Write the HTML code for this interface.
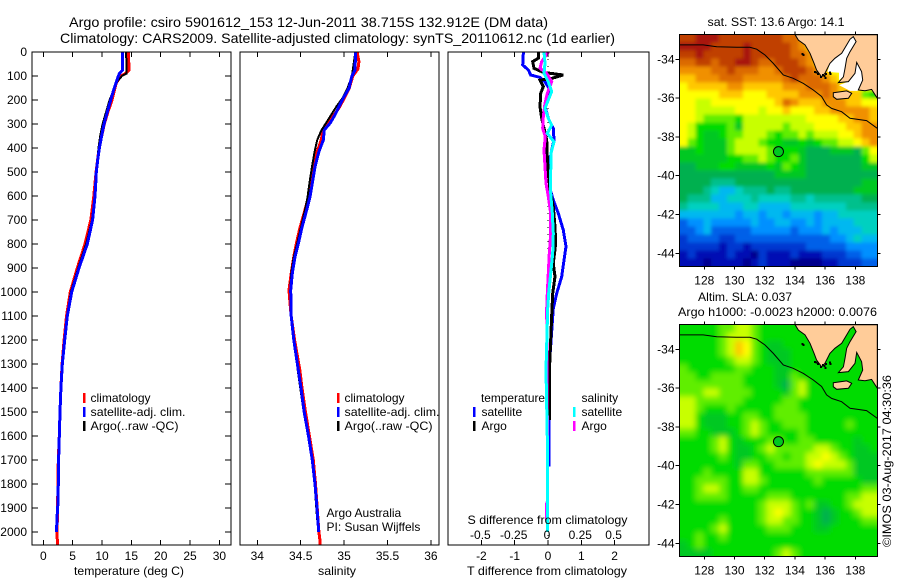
<!DOCTYPE html>
<html lang="en">
<head>
<meta charset="utf-8">
<title>Argo profile</title>
<style>
html,body{margin:0;padding:0;background:#fff;}
svg{display:block;}
text{font-family:"Liberation Sans",sans-serif;font-size:12px;fill:#000;}
.t{font-size:14px;}
</style>
</head>
<body>
<svg id="chart" xmlns="http://www.w3.org/2000/svg" width="900" height="580" viewBox="0 0 900 580">
<defs>
<filter id="sstBlur" filterUnits="userSpaceOnUse" x="640" y="0" width="260" height="300"><feGaussianBlur stdDeviation="1.8"/></filter>
<filter id="slaBlur" filterUnits="userSpaceOnUse" x="640" y="290" width="260" height="290"><feGaussianBlur stdDeviation="3"/></filter>
<clipPath id="sstClip"><rect x="679.5" y="34.7" width="198" height="232"/></clipPath>
<clipPath id="slaClip"><rect x="679.5" y="324.7" width="198" height="232"/></clipPath>
</defs>
<rect x="0" y="0" width="900" height="580" fill="#ffffff"/>
<g id="maps"></g>
<g id="plots"></g>
<g id="labels"></g>
<text class="t" x="69" y="27" textLength="479" lengthAdjust="spacingAndGlyphs">Argo profile: csiro 5901612_153 12-Jun-2011 38.715S 132.912E (DM data)</text>
<text class="t" x="60" y="43" textLength="555" lengthAdjust="spacingAndGlyphs">Climatology: CARS2009. Satellite-adjusted climatology: synTS_20110612.nc (1d earlier)</text>
<text x="129" y="575" text-anchor="middle" textLength="110" lengthAdjust="spacingAndGlyphs">temperature (deg C)</text>
<text x="337" y="575" text-anchor="middle" textLength="38" lengthAdjust="spacingAndGlyphs">salinity</text>
<text x="547" y="575" text-anchor="middle" textLength="160" lengthAdjust="spacingAndGlyphs">T difference from climatology</text>
<text x="547.5" y="524" text-anchor="middle" textLength="160" lengthAdjust="spacingAndGlyphs">S difference from climatology</text>
<g>
<rect x="83" y="393" width="2.5" height="10" fill="#ff0000"/>
<rect x="83" y="407" width="2.5" height="10" fill="#0000ff"/>
<rect x="83" y="421" width="2.5" height="10" fill="#000000"/>
<text x="90.5" y="402">climatology</text>
<text x="90.5" y="416" textLength="95" lengthAdjust="spacingAndGlyphs">satellite-adj. clim.</text>
<text x="90.5" y="430" textLength="88" lengthAdjust="spacingAndGlyphs">Argo(..raw -QC)</text>
</g>
<g>
<rect x="337" y="393" width="2.5" height="10" fill="#ff0000"/>
<rect x="337" y="407" width="2.5" height="10" fill="#0000ff"/>
<rect x="337" y="421" width="2.5" height="10" fill="#000000"/>
<text x="344.5" y="402">climatology</text>
<text x="344.5" y="416" textLength="95" lengthAdjust="spacingAndGlyphs">satellite-adj. clim.</text>
<text x="344.5" y="430" textLength="88" lengthAdjust="spacingAndGlyphs">Argo(..raw -QC)</text>
</g>
<g>
<text x="481" y="402" textLength="64" lengthAdjust="spacingAndGlyphs">temperature</text>
<text x="581.5" y="402">salinity</text>
<rect x="473" y="407" width="2.5" height="10" fill="#0000ff"/>
<rect x="473" y="421" width="2.5" height="10" fill="#000000"/>
<rect x="573" y="407" width="2.5" height="10" fill="#00ffff"/>
<rect x="573" y="421" width="2.5" height="10" fill="#ff00ff"/>
<text x="481.5" y="416">satellite</text>
<text x="481.5" y="430">Argo</text>
<text x="581.5" y="416">satellite</text>
<text x="581.5" y="430">Argo</text>
</g>
<text x="326.5" y="517">Argo Australia</text>
<text x="326.5" y="531">PI: Susan Wijffels</text>
<text x="776" y="26" text-anchor="middle" textLength="137" lengthAdjust="spacingAndGlyphs">sat. SST: 13.6 Argo: 14.1</text>
<text x="745" y="301" text-anchor="middle" textLength="94" lengthAdjust="spacingAndGlyphs">Altim. SLA: 0.037</text>
<text x="777.5" y="316" text-anchor="middle" textLength="199" lengthAdjust="spacingAndGlyphs">Argo h1000: -0.0023 h2000: 0.0076</text>
<text transform="translate(891 461) rotate(-90)" text-anchor="middle" textLength="172" lengthAdjust="spacingAndGlyphs">©IMOS 03-Aug-2017 04:30:36</text>
</svg>
<script>
// ---------- axis tick data ----------
const depthTicks = [0,100,200,300,400,500,600,700,800,900,1000,1100,1200,1300,1400,1500,1600,1700,1800,1900,2000];
const tempTicks = [0,5,10,15,20,25,30];
const salTicks = [34,34.5,35,35.5,36];
const salTickLabels = ['34','34.5','35','35.5','36'];
const tDiffTicks = [-2,-1,0,1,2];
const sDiffTicks = [-0.5,-0.25,0,0.25,0.5];
const sDiffTickLabels = ['-0.5','-0.25','0','0.25','0.5'];
const lonTicks = [128,130,132,134,136,138];
const latTicks = [-34,-36,-38,-40,-42,-44];

// ---------- temperature profiles ----------
const tempClimDepth = [0,75,90,100,130,200,250,300,400,500,600,700,800,900,1000,1100,1200,1300,1400,1500,1600,1700,1800,1900,2000,2054];
const tempClimValue = [14.5,14.6,14.0,13.2,12.4,11.7,11.0,10.4,9.5,9.0,8.6,8.1,7.1,5.8,4.6,3.95,3.55,3.2,3.0,2.85,2.72,2.55,2.5,2.42,2.35,2.4];
const tempArgoDepth = [0,90,100,120,150,200,250,300,350,400,500,600,700,800,900,1000,1100,1200,1300,1400,1500,1600,1700,1800,1900,2000];
const tempArgoValue = [14.1,14.2,13.4,12.7,12.1,11.3,10.7,10.1,9.7,9.4,9.05,8.75,8.3,7.3,5.95,4.7,4.05,3.6,3.25,3.05,2.9,2.75,2.55,2.5,2.42,2.35];
const tempSatDepth = [0,75,90,100,130,150,200,250,300,350,400,450,500,550,600,700,800,900,1000,1100,1200,1300,1400,1500,1600,1700,1800,1900,1950,2000];
const tempSatValue = [13.52,13.52,12.96,12.79,12.39,12.1,11.48,10.9,10.34,9.94,9.55,9.26,9.03,8.92,8.8,8.4,7.5,6.08,4.83,4.09,3.65,3.24,3.0,2.85,2.73,2.6,2.56,2.45,2.3,2.28];

// ---------- salinity profiles ----------
const salClimDepth = [0,40,70,100,150,193,228,262,297,325,367,415,478,547,603,658,735,797,853,922,992,1061,1100,1200,1325,1400,1500,1600,1700,1800,1900,2000,2030,2054];
const salClimValue = [35.15,35.17,35.16,35.1,35.06,35.0,34.95,34.885,34.81,34.76,34.735,34.69,34.65,34.625,34.59,34.55,34.49,34.45,34.42,34.39,34.365,34.38,34.39,34.43,34.49,34.515,34.555,34.6,34.645,34.67,34.69,34.71,34.72,34.725];
const salArgoDepth = [0,50,100,150,193,228,262,297,325,367,415,478,547,603,658,735,797,853,922,992,1061,1100,1200,1325,1400,1500,1600,1700,1800,1900,1950];
const salArgoValue = [35.13,35.11,35.09,35.04,34.98,34.91,34.85,34.79,34.74,34.69,34.66,34.63,34.6,34.58,34.55,34.5,34.46,34.42,34.39,34.38,34.39,34.39,34.42,34.465,34.495,34.535,34.585,34.63,34.66,34.68,34.69];
const salSatDepth = [0,75,103,151,193,228,262,297,325,367,415,478,547,603,658,735,797,853,922,992,1061,1100,1200,1325,1400,1500,1600,1700,1800,1900,2000];
const salSatValue = [35.133,35.126,35.087,35.056,34.99,34.94,34.895,34.838,34.772,34.76,34.71,34.665,34.634,34.607,34.569,34.511,34.473,34.434,34.403,34.385,34.388,34.39,34.42,34.472,34.503,34.54,34.59,34.634,34.665,34.688,34.707];

// ---------- difference profiles ----------
const dTSatDepth = [0,54,75,96,106,124,158,193,228,276,318,367,408,464,561,617,672,742,811,867,936,1006,1068,1325,1728];
const dTSatValue = [-0.74,-0.76,-0.59,-0.52,-0.24,-0.09,0.06,-0.04,-0.09,0.01,0.16,0.18,0.11,0.04,0.04,0.16,0.31,0.46,0.54,0.48,0.41,0.26,0.16,0.03,0.03];
const dTArgoDepth = [0,26,40,68,85,96,110,117,144,172,228,276,318,367,436,506,575,644,728,797,881,936,1006,1068,1300,1533];
const dTArgoValue = [-0.29,-0.29,-0.46,-0.42,-0.14,0.46,0.11,-0.24,-0.14,-0.22,-0.24,-0.19,-0.12,-0.04,-0.02,0.01,0.06,0.16,0.21,0.23,0.16,0.21,0.14,0.12,0.05,0.05];
const dSArgoDepth = [0,40,68,89,124,172,214,269,318,353,408,478,547,603,672,756,839,922,1006,1068,1550,1660,1870,1885,1950];
const dSArgoValue = [0.0025,-0.0475,-0.06,-0.01,0.0275,-0.005,-0.0225,-0.035,-0.04,-0.02,-0.03,-0.0225,-0.015,0.0025,0.02,0.02,0.01,0.0025,-0.005,-0.01,-0.005,-0.003,-0.003,-0.0125,-0.0125];
const dSSatDepth = [0,47,89,124,165,200,235,276,304,339,374,422,506,589,672,756,839,922,1006,1068,1325,1650,2000];
const dSSatValue = [-0.03,-0.0225,-0.03,0.0025,0.0275,0.0025,-0.0225,0.0025,0.0275,-0.005,0.045,0.0225,0.02,0.02,0.0325,0.04,0.035,0.02,0.005,-0.0025,-0.015,-0.004,-0.004];

// ---------- map geography ----------
const contourLon = [126.34,127.93,128.82,130.14,131.02,131.47,132.02,132.57,133.23,133.89,134.56,135.22,135.77,136.10,136.43,137.09,137.65,138.75,139.46];
const contourLat = [-33.26,-33.26,-33.35,-33.38,-33.38,-33.48,-33.78,-34.21,-34.81,-34.98,-35.24,-35.58,-35.92,-36.35,-36.53,-36.70,-37.04,-37.16,-37.56];
const landLon = [134.01,134.23,134.67,135.0,135.27,135.44,135.77,135.99,136.32,136.65,137.10,137.43,137.65,137.87,138.05,137.65,137.43,137.32,137.21,136.88,137.54,137.98,138.09,138.42,138.49,138.20,138.64,139.08,139.46,139.46];
const landLat = [-32.73,-33.01,-33.26,-33.69,-34.21,-34.55,-34.90,-34.72,-34.21,-33.95,-33.69,-33.26,-32.97,-32.83,-33.09,-33.61,-33.95,-34.47,-34.90,-35.20,-35.15,-34.72,-34.16,-34.64,-35.07,-35.58,-35.62,-35.55,-36.01,-32.73];
const islandLon = [136.54,137.43,137.76,137.54,136.77,136.54];
const islandLat = [-35.72,-35.63,-35.75,-36.01,-36.06,-35.93];
const spencerLon = [137.87,137.65,137.43,137.10,136.65,136.32,136.15,136.92,136.92,137.21,137.32,137.43,137.65,138.05];
const spencerLat = [-32.83,-32.97,-33.26,-33.69,-33.95,-34.21,-34.65,-34.69,-35.07,-34.90,-34.47,-33.95,-33.61,-33.09];
const vincentLon = [138.09,137.98,137.54,136.92,137.65,138.20,138.49,138.42];
const vincentLat = [-34.16,-34.72,-35.15,-35.33,-35.63,-35.63,-35.07,-34.64];
const islandSpeckLon = [134.45,134.5,135.25,135.35,135.45,135.8,135.9,136.0,136.25,136.3,135.65,135.95];
const islandSpeckLat = [-33.68,-33.72,-34.6,-34.64,-34.7,-34.75,-34.82,-34.7,-34.62,-34.7,-34.85,-34.92];
const argoLon = [132.912];
const argoLat = [-38.76];

// ---------- heatmap levels (colour-scale class of each grid cell) ----------
const levelColors = ['#00008c','#0010b4','#0038d0','#0060e8','#0090ff','#00b8f0','#00d0c0','#00c08c','#00b050','#00c820','#00dc00','#60ee00','#c8ff00','#ffff00','#ffc800','#f09000','#dc6a00','#c04000','#a81808'];
const sstRows = [
[17,17,18,18,18,17,17,17,17,17,17,17,17,16,16,15,15,15,15,15,15,15,15,15,15],
[18,18,18,18,17,17,17,17,18,17,17,17,17,17,16,15,14,14,14,14,14,14,14,14,14],
[17,17,18,17,17,17,17,17,18,17,17,17,17,17,16,16,15,14,14,14,14,14,14,14,14],
[16,16,17,17,16,17,17,18,18,17,16,16,17,17,17,16,15,14,14,14,14,14,14,14,14],
[15,15,15,15,16,16,17,16,16,16,15,15,16,17,17,17,16,15,14,13,13,13,14,14,14],
[14,14,15,15,15,16,16,16,15,15,15,15,15,16,17,16,16,16,15,14,13,13,13,13,13],
[13,14,14,14,14,14,15,15,14,14,14,14,14,15,15,15,16,16,16,15,14,14,13,13,13],
[13,13,13,13,13,14,14,14,13,13,13,14,14,14,14,15,15,15,16,15,14,14,14,11,10],
[13,13,12,12,13,13,13,13,13,13,13,13,14,16,15,14,14,14,15,15,15,14,14,13,13],
[13,13,12,12,12,12,12,13,13,13,12,13,13,14,13,13,13,14,14,15,15,15,15,15,14],
[13,13,12,11,11,11,11,10,12,12,12,12,12,12,12,12,13,13,13,13,14,14,15,15,14],
[13,12,10,10,10,10,11,9,12,12,12,12,12,11,12,12,12,13,13,13,13,14,14,15,15],
[13,12,10,9,9,10,11,11,12,12,12,11,10,11,11,12,11,12,12,12,13,13,14,15,15],
[13,11,10,9,9,9,11,12,12,12,11,10,10,9,9,10,9,10,11,11,12,12,13,14,15],
[9,9,10,9,9,9,11,12,12,12,12,11,9,10,10,9,8,8,8,9,9,9,8,11,13],
[9,9,9,9,9,9,10,10,11,11,12,11,10,10,11,9,8,8,8,8,8,8,8,10,12],
[8,8,9,9,9,10,10,9,9,9,9,10,9,11,10,9,8,8,8,8,8,8,8,9,9],
[8,8,8,8,8,8,8,8,8,8,8,8,9,9,9,9,8,8,8,8,8,8,8,8,8],
[8,8,8,8,7,7,7,8,8,8,8,8,8,8,8,8,8,8,8,8,8,8,8,9,9],
[8,8,8,7,6,5,5,6,7,7,7,8,7,7,8,8,8,8,8,8,8,8,9,9,9],
[8,7,7,7,5,5,6,6,6,7,6,6,6,6,7,7,6,7,7,7,7,7,7,8,8],
[7,6,6,6,6,5,5,5,6,6,5,5,5,5,6,6,6,6,6,6,6,7,7,7,7],
[5,5,5,5,5,5,5,4,5,5,4,5,5,4,5,5,5,4,5,5,6,6,6,6,6],
[3,4,4,5,4,4,4,4,4,5,4,4,5,5,4,4,5,4,5,5,5,5,6,6,6],
[3,3,4,5,3,3,3,3,3,4,4,4,4,4,3,4,4,4,5,4,5,5,5,6,6],
[2,3,3,3,3,2,2,3,3,3,3,3,3,3,3,3,3,3,3,4,4,5,6,5,5],
[2,2,2,2,2,1,2,2,1,2,2,2,2,2,2,2,3,3,3,3,3,4,4,4,4],
[1,2,1,1,1,1,2,1,1,0,2,1,1,1,2,1,1,1,2,2,2,3,3,4,4],
[1,1,1,0,1,1,1,1,0,1,2,1,1,1,0,0,0,0,1,1,2,2,2,3,3]
];
const slaRows = [
[10,10,10,10,10,11,11,12,12,11,10,10,10,10,10,10,10,10,10,10,10,10,10,10,10],
[10,10,10,10,10,11,12,12,12,11,10,10,10,10,10,10,10,10,10,10,10,10,10,10,10],
[10,10,10,10,10,11,12,14,13,11,10,9,9,10,10,10,10,10,10,10,10,10,10,10,10],
[10,10,10,10,10,11,12,14,13,11,10,9,9,9,10,10,10,10,10,10,10,10,10,10,10],
[10,10,10,10,10,10,11,12,12,11,10,9,9,9,10,10,10,10,10,10,10,10,10,10,10],
[11,10,10,10,10,10,10,11,11,10,10,10,9,9,10,10,10,10,10,10,10,10,10,10,10],
[11,11,10,10,11,11,11,11,10,10,10,10,9,9,11,10,10,10,10,10,10,10,10,10,10],
[11,11,11,11,11,11,11,11,10,10,10,10,9,8,11,12,10,10,10,10,10,10,10,10,10],
[11,11,11,12,12,11,11,11,11,10,10,10,10,9,11,12,10,10,10,10,10,10,10,10,10],
[12,12,11,11,11,11,11,11,10,10,10,10,10,11,11,10,10,10,10,10,10,10,10,10,10],
[12,12,11,10,10,10,11,10,10,10,10,10,11,11,11,10,10,10,10,10,10,10,10,10,10],
[12,12,10,9,9,9,10,10,11,11,10,10,11,11,11,11,10,10,10,10,10,10,10,10,10],
[12,12,10,9,9,9,10,10,11,12,11,10,10,11,11,11,10,10,10,10,10,11,10,10,10],
[11,11,10,10,9,9,9,10,11,12,11,10,10,10,10,11,10,10,10,10,10,10,10,10,10],
[10,10,10,10,11,12,10,9,10,10,10,11,11,10,10,11,11,10,10,10,10,10,9,10,10],
[10,10,10,10,11,12,10,9,9,10,11,12,11,11,11,11,11,12,12,11,10,10,9,9,10],
[10,10,10,10,10,11,10,9,9,10,10,11,11,10,11,11,12,12,13,12,11,10,9,9,9],
[10,10,10,10,10,10,10,9,11,11,10,10,11,11,11,11,12,13,12,12,12,11,9,9,9],
[10,10,10,11,10,10,10,10,12,12,10,10,10,10,10,10,11,11,11,11,11,11,9,9,9],
[10,10,11,11,11,11,10,10,12,12,11,10,10,10,10,10,10,11,10,10,10,10,10,9,9],
[10,10,11,12,12,11,10,10,11,11,10,10,10,10,10,10,10,10,10,10,10,10,10,11,11],
[10,10,11,11,11,11,10,10,10,10,10,11,11,11,10,10,10,10,10,10,10,11,11,12,12],
[10,10,10,10,10,10,10,10,10,10,11,12,12,12,11,10,11,9,9,10,10,11,12,12,12],
[10,10,10,10,10,10,10,10,10,10,11,12,13,12,11,10,10,9,8,9,10,10,11,12,12],
[10,10,10,10,10,11,10,10,10,10,11,12,12,11,11,10,10,9,8,9,10,10,10,11,11],
[10,10,10,10,11,12,10,10,10,10,10,11,11,11,10,10,10,9,9,10,10,10,10,10,10],
[10,10,11,10,10,11,10,10,10,10,10,10,10,10,10,10,10,10,10,10,10,10,10,10,10],
[9,10,11,10,10,10,10,10,10,10,10,10,10,10,10,10,10,10,10,10,10,10,10,10,10],
[9,9,9,9,10,10,10,10,10,10,10,10,11,12,11,10,10,10,10,10,10,10,10,10,10]
];

// ---------- helpers ----------
const NS = 'http://www.w3.org/2000/svg';
function make(parent, tag, attrs, txt) {
  const el = document.createElementNS(NS, tag);
  for (const k in attrs) el.setAttribute(k, attrs[k]);
  if (txt !== undefined) el.textContent = txt;
  parent.appendChild(el);
  return el;
}
const plots = document.getElementById('plots');
const maps = document.getElementById('maps');
const labels = document.getElementById('labels');

// axis functions
const depthY = d => 52 + 0.24 * d;
const tempX = t => 43.3 + 5.87 * t;
const salX = s => 257.3 + 86.8 * (s - 34);
const tDiffX = t => 548 + 33.3 * t;
const sDiffX = s => 548 + 133.2 * s;
const lonX = lon => 704.3 + 15.1 * (lon - 128);
const latY = (lat, top) => top + 24.6 + 19.4 * (-34 - lat);

function profile(name, xs, depths, xFn, color, width) {
  const pts = xs.map((v, i) => xFn(v).toFixed(1) + ',' + depthY(depths[i]).toFixed(1)).join(' ');
  const line = make(plots, 'polyline', {points: pts, fill: 'none', stroke: color, 'stroke-width': width, 'shape-rendering': 'crispEdges'});
  
  
}
function tick(x1, y1, x2, y2) {
  const t = make(plots, 'line', {x1: x1, y1: y1, x2: x2, y2: y2, stroke: '#000', 'stroke-width': 1, 'shape-rendering': 'crispEdges'});
  
  
}
function tickLabel(x, y, anchor, txt) {
  const t = make(labels, 'text', {x: x, y: y, 'text-anchor': anchor}, txt);
  
  
}
function frame(name, x1, y1, x2, y2, parent) {
  const r = make(parent, 'rect', {x: x1, y: y1, width: x2 - x1, height: y2 - y1, fill: 'none', stroke: '#000', 'stroke-width': 1, 'shape-rendering': 'crispEdges'});
  
  
}

// ---------- temperature panel ----------
profile('temperature-climatology-line', tempClimValue, tempClimDepth, tempX, '#ff0000', 3);
profile('temperature-argo-line', tempArgoValue, tempArgoDepth, tempX, '#000000', 2);
profile('temperature-satellite-line', tempSatValue, tempSatDepth, tempX, '#0000ff', 3);
tempTicks.forEach(v => {
  tick(tempX(v), 52, tempX(v), 57);
  tick(tempX(v), 540, tempX(v), 545);
  tickLabel(tempX(v), 560, 'middle', String(v));
});
depthTicks.forEach(v => {
  tick(32, depthY(v), 38, depthY(v));
  tick(225, depthY(v), 231, depthY(v));
  tickLabel(27, depthY(v) + 4, 'end', String(v));
});
frame('temperature-panel-frame', 32, 52, 231, 545, plots);

// ---------- salinity panel ----------
profile('salinity-climatology-line', salClimValue, salClimDepth, salX, '#ff0000', 3);
profile('salinity-argo-line', salArgoValue, salArgoDepth, salX, '#000000', 2);
profile('salinity-satellite-line', salSatValue, salSatDepth, salX, '#0000ff', 3);
salTicks.forEach((v, i) => {
  tick(salX(v), 52, salX(v), 57);
  tick(salX(v), 540, salX(v), 545);
  tickLabel(salX(v), 560, 'middle', salTickLabels[i]);
});
frame('salinity-panel-frame', 240, 52, 439, 545, plots);

// ---------- difference panel ----------
const zeroLine = make(plots, 'line', {x1: tDiffX(0), y1: 52, x2: tDiffX(0), y2: 545, stroke: '#000', 'stroke-width': 1, 'stroke-dasharray': '1 6'});


profile('t-difference-satellite-line', dTSatValue, dTSatDepth, tDiffX, '#0000ff', 3);
profile('t-difference-argo-line', dTArgoValue, dTArgoDepth, tDiffX, '#000000', 3);
profile('s-difference-argo-line', dSArgoValue, dSArgoDepth, sDiffX, '#ff00ff', 3);
profile('s-difference-satellite-line', dSSatValue, dSSatDepth, sDiffX, '#00ffff', 3);
tDiffTicks.forEach(v => {
  tick(tDiffX(v), 52, tDiffX(v), 57);
  tick(tDiffX(v), 540, tDiffX(v), 545);
  tickLabel(tDiffX(v), 560, 'middle', String(v));
});
sDiffTicks.forEach((v, i) => {
  tickLabel(sDiffX(v) - 1, 539, 'middle', sDiffTickLabels[i]);
});
frame('difference-panel-frame', 448, 52, 649, 545, plots);

// ---------- maps ----------
const mapLeft = 679.5, mapWidth = 198, mapHeight = 232;
function poly(parent, lons, lats, top, fill, stroke, name) {
  const pts = lons.map((v, i) => lonX(v).toFixed(1) + ',' + latY(lats[i], top).toFixed(1)).join(' ');
  const p = make(parent, 'polygon', {points: pts, fill: fill, stroke: stroke, 'stroke-width': 1});
  
  
}
function drawMap(prefix, rows, top, gulfFill, argoFill) {
  const g = make(maps, 'g', {});
  
  
  const clip = make(g, 'g', {'clip-path': 'url(#' + prefix + 'Clip)'});
  
  
  const field = make(clip, 'g', {filter: 'url(#' + prefix + 'Blur)'});
  
  
  const cw = mapWidth / rows[0].length, ch = mapHeight / rows.length;
  const nr = rows.length, nc = rows[0].length, bleed = 14;
  rows.forEach((row, j) => row.forEach((v, i) => {
    let x = mapLeft + i * cw, y = top + j * ch, w = cw + 0.5, h = ch + 0.5;
    if (i === 0) { x -= bleed; w += bleed; }
    if (j === 0) { y -= bleed; h += bleed; }
    if (i === nc - 1) { w += bleed; }
    if (j === nr - 1) { h += bleed; }
    const c = make(field, 'rect', {x: x.toFixed(2), y: y.toFixed(2), width: w.toFixed(2), height: h.toFixed(2), fill: levelColors[v], 'shape-rendering': 'crispEdges'});
    
    
  }));
  if (gulfFill) {
    poly(clip, spencerLon, spencerLat, top, gulfFill, 'none', 'spencer-gulf-no-data');
    poly(clip, vincentLon, vincentLat, top, gulfFill, 'none', 'st-vincent-gulf-no-data');
  }
  poly(clip, landLon, landLat, top, '#ffcc99', '#000', 'land-mass');
  poly(clip, islandLon, islandLat, top, '#ffcc99', '#000', 'kangaroo-island');
  islandSpeckLon.forEach((v, i) => {
    const s = make(clip, 'rect', {x: lonX(v).toFixed(1), y: latY(islandSpeckLat[i], top).toFixed(1), width: 2, height: 2, fill: '#000', 'shape-rendering': 'crispEdges'});
    
    
  });
  const cpts = contourLon.map((v, i) => lonX(v).toFixed(1) + ',' + latY(contourLat[i], top).toFixed(1)).join(' ');
  const contour = make(clip, 'polyline', {points: cpts, fill: 'none', stroke: '#000', 'stroke-width': 1});
  
  
  const marker = make(clip, 'circle', {cx: lonX(argoLon[0]), cy: latY(argoLat[0], top), r: 5, fill: argoFill, stroke: '#000', 'stroke-width': 1});
  
  
  frame(prefix + '-map-frame', mapLeft, top, mapLeft + mapWidth, top + mapHeight, g);
  lonTicks.forEach(v => {
    tick(lonX(v), top - 3, lonX(v), top);
    tick(lonX(v), top + mapHeight, lonX(v), top + mapHeight + 3);
    tickLabel(lonX(v), top + mapHeight + 18, 'middle', String(v));
  });
  latTicks.forEach(v => {
    tick(mapLeft - 4, latY(v, top), mapLeft, latY(v, top));
    tick(mapLeft + mapWidth, latY(v, top), mapLeft + mapWidth + 3, latY(v, top));
    tickLabel(mapLeft - 5, latY(v, top) + 4, 'end', String(v));
  });
}
drawMap('sst', sstRows, 34.7, '#ffffff', '#00c820');
drawMap('sla', slaRows, 324.7, null, '#00c820');
</script>
</body>
</html>
